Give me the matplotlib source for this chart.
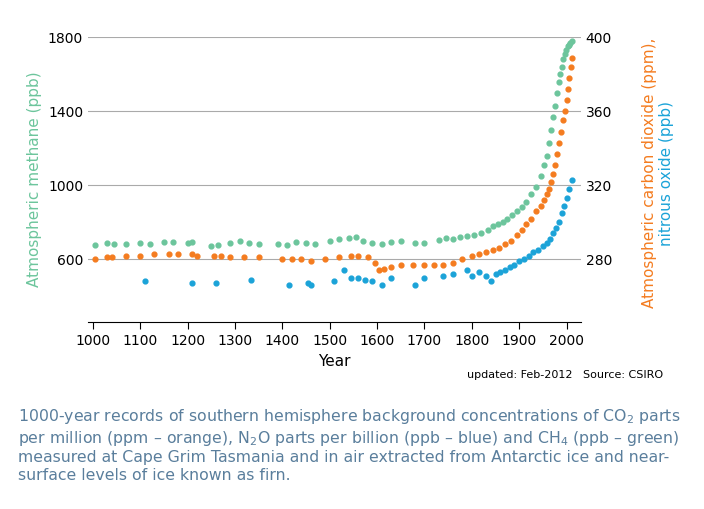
import numpy as np
import matplotlib.pyplot as plt

# methane (ppb), left axis
ch4_year = [1005, 1030, 1045, 1070, 1100, 1120, 1150, 1170, 1200, 1210, 1250, 1265, 1290, 1310, 1330, 1350,
            1390, 1410, 1430, 1450, 1470, 1500, 1520, 1540, 1555, 1570, 1590, 1610, 1630, 1650, 1680, 1700,
            1730, 1745, 1760, 1775, 1790, 1805, 1820, 1835, 1845, 1855, 1865, 1875, 1885, 1895, 1905, 1915,
            1925, 1935, 1945, 1952, 1958, 1963, 1968, 1972, 1976, 1980, 1984, 1987, 1990, 1993, 1996, 1999,
            2002, 2005, 2008, 2011]
ch4_val = [675, 690, 685, 682, 688, 680, 695, 692, 690, 693, 672, 678, 690, 700, 688, 680,
           685, 675, 695, 690, 680, 700, 710, 715, 720, 700, 690, 685, 695, 700, 690, 690,
           705, 715, 712, 720, 725, 730, 740, 760, 780, 790, 800, 820, 840, 860, 880, 910,
           950, 990, 1050, 1110, 1160, 1230, 1300, 1370, 1430, 1500, 1560, 1600, 1640, 1680, 1710, 1730,
           1750, 1760, 1770, 1780]

# carbon dioxide (ppm), right axis
co2_year = [1005, 1030, 1040, 1070, 1100, 1130, 1160, 1180, 1210, 1220, 1255, 1270, 1290, 1320, 1350,
            1400, 1420, 1440, 1460, 1490, 1520, 1545, 1560, 1580, 1595, 1605, 1615, 1630, 1650, 1675, 1700,
            1720, 1740, 1760, 1780, 1800, 1815, 1830, 1845, 1858, 1870, 1882, 1895, 1905, 1915, 1925, 1935,
            1945, 1952, 1958, 1963, 1968, 1972, 1976, 1980, 1984, 1988, 1992, 1996, 2000, 2003, 2006, 2009, 2011]
co2_val = [280, 281, 281, 282, 282, 283, 283, 283, 283, 282, 282, 282, 281, 281, 281,
           280, 280, 280, 279, 280, 281, 282, 282, 281, 278, 274, 275, 276, 277, 277, 277,
           277, 277, 278, 280, 282, 283, 284, 285, 286, 288, 290, 293, 296, 299, 302, 306,
           309, 312, 315, 318, 322, 326, 331, 337, 343, 349, 355, 360, 366, 372, 378, 384, 389]

# nitrous oxide (ppb), right axis
n2o_year = [1110, 1210, 1260, 1335, 1415, 1455, 1460, 1510, 1530, 1545, 1560, 1575, 1590, 1610, 1630,
            1680, 1700, 1740, 1760, 1790, 1800, 1815, 1830, 1840, 1850, 1860, 1870, 1880, 1890, 1900,
            1910, 1920, 1930, 1940, 1950, 1958, 1965, 1972, 1978, 1984, 1990, 1995, 2000, 2005, 2011]
n2o_val = [268, 267, 267, 269, 266, 267, 266, 268, 274, 270, 270, 269, 268, 266, 270,
           266, 270, 271, 272, 274, 271, 273, 271, 268, 272, 273, 274, 276, 277, 279,
           280, 282, 284, 285, 287, 289, 291, 294, 297, 300, 305, 309, 313, 318, 323]

green = '#6cc59c'
orange = '#f47c20'
blue = '#1ba3d8'
capcol = '#5a7e9c'

fig = plt.figure(figsize=(7.04, 5.09), dpi=100)
ax = fig.add_axes([0.125, 0.367, 0.70, 0.56])
ax2 = ax.twinx()

ax.scatter(ch4_year, ch4_val, s=12, color=green, zorder=3)
ax2.scatter(co2_year, co2_val, s=12, color=orange, zorder=3)
ax2.scatter(n2o_year, n2o_val, s=12, color=blue, zorder=3)

ax.set_xlim(990, 2030)
ax.set_ylim(260, 1800)
ax2.set_ylim(246, 400)
ax.set_yticks([600, 1000, 1400, 1800])
ax2.set_yticks([280, 320, 360, 400])
ax.set_xticks(range(1000, 2001, 100))
ax.grid(axis='y', color='#aaaaaa', lw=0.8)
for a in (ax, ax2):
    for s in ('top', 'left', 'right'):
        a.spines[s].set_visible(False)
    a.tick_params(axis='y', length=0, labelsize=10)
ax2.spines['bottom'].set_visible(False)
ax.tick_params(axis='x', labelsize=10, length=5)
ax.set_xlabel('Year', fontsize=11)
ax.set_ylabel('Atmospheric methane (ppb)', color=green, fontsize=11)

fig.text(0.922, 0.66, 'Atmospheric carbon dioxide (ppm),', color=orange, rotation=90,
         ha='center', va='center', fontsize=11)
fig.text(0.947, 0.66, 'nitrous oxide (ppb)', color=blue, rotation=90,
         ha='center', va='center', fontsize=11)
fig.text(0.663, 0.257, 'updated: Feb-2012   Source: CSIRO', fontsize=8)

cap = ('1000-year records of southern hemisphere background concentrations of CO$_2$ parts\n'
       'per million (ppm \u2013 orange), N$_2$O parts per billion (ppb \u2013 blue) and CH$_4$ (ppb \u2013 green)\n'
       'measured at Cape Grim Tasmania and in air extracted from Antarctic ice and near-\n'
       'surface levels of ice known as firn.')
fig.text(0.025, 0.2, cap, color=capcol, fontsize=11.3, va='top', linespacing=1.2)

fig.savefig('out.png')
